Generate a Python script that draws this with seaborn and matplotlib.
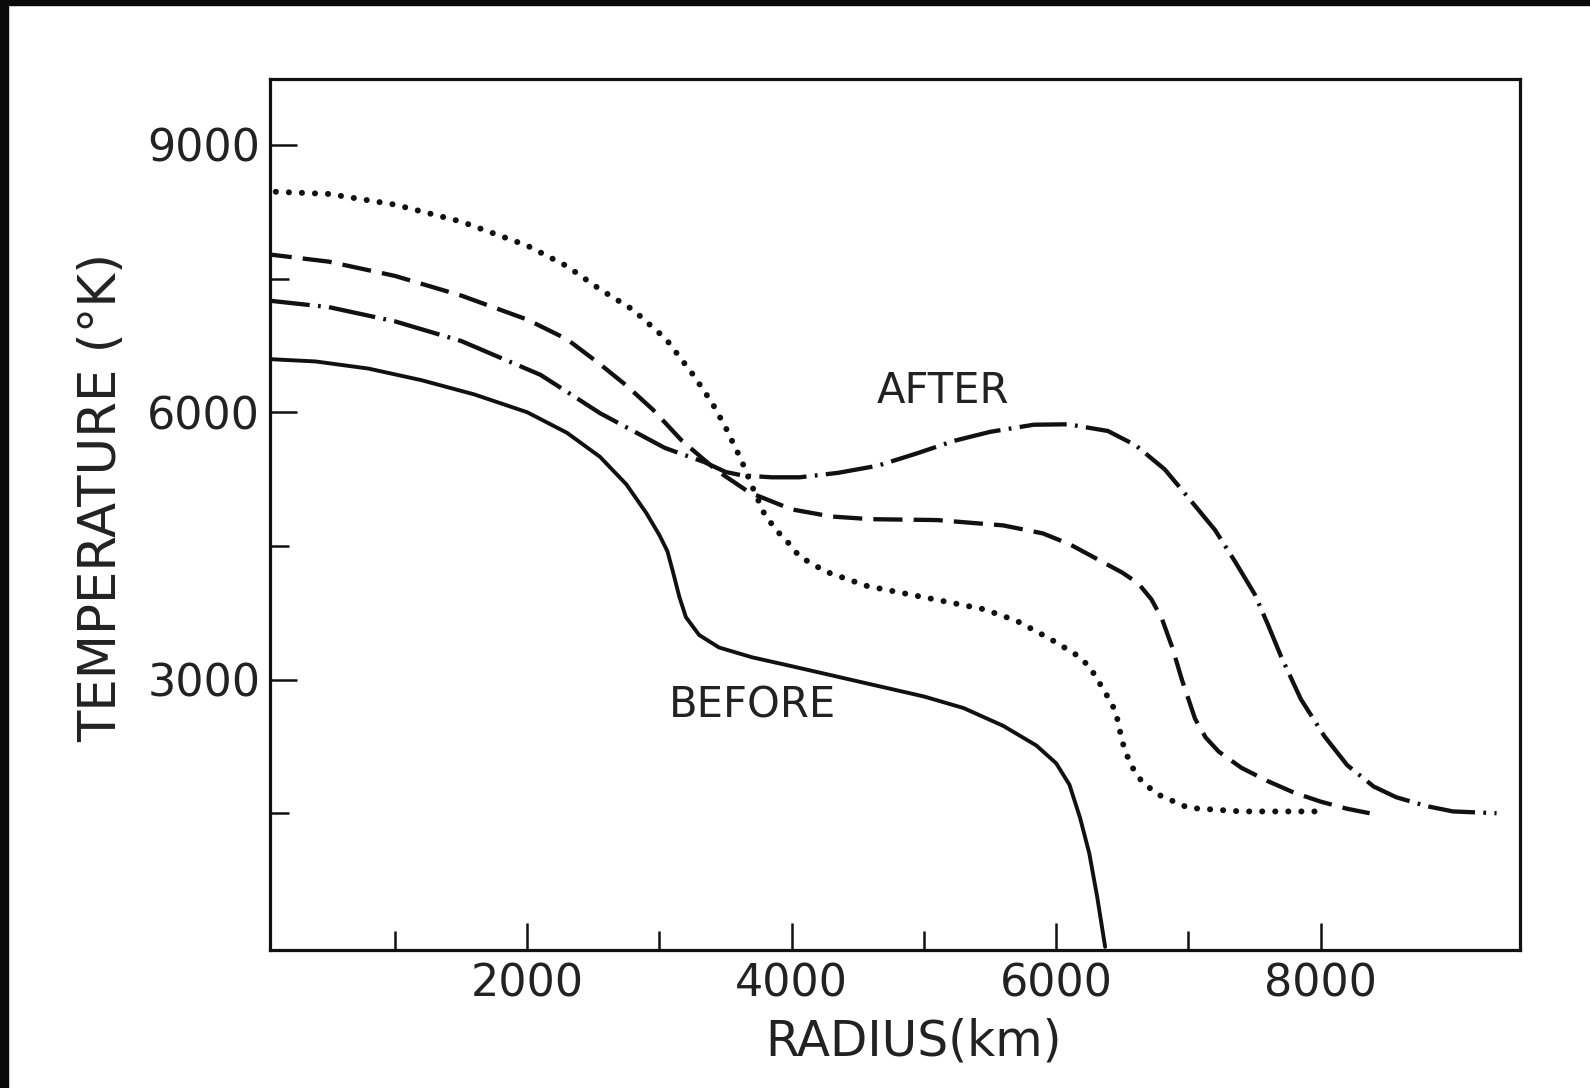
import matplotlib
matplotlib.use("Agg")
import matplotlib.pyplot as plt
from matplotlib.patches import Rectangle
from matplotlib.ticker import FixedLocator
import pandas as pd
import seaborn as sns

# Temperature profiles (K) versus radius (km)
before_r = [0, 400, 800, 1200, 1600, 2000, 2300, 2550, 2750, 2900, 3000, 3060, 3100,
            3150, 3200, 3300, 3450, 3700, 4000, 4500, 5000, 5300, 5600, 5850, 6000,
            6100, 6180, 6250, 6310, 6370]
before_t = [6600, 6570, 6490, 6360, 6200, 6000, 5770, 5500, 5190, 4870, 4620, 4440, 4220,
            3930, 3700, 3500, 3360, 3250, 3150, 2980, 2810, 2680, 2480, 2260, 2060,
            1820, 1450, 1050, 560, 0]

dotted_r = [0, 500, 1000, 1500, 2000, 2300, 2550, 2800, 3050, 3250, 3400, 3500, 3620,
            3700, 3790, 3880, 3960, 4060, 4260, 4570, 5080, 5450, 5700, 5950, 6140,
            6250, 6340, 6400, 6450, 6500, 6560, 6650, 6770, 7000, 7400, 8000]
dotted_t = [8480, 8450, 8330, 8140, 7870, 7640, 7380, 7150, 6820, 6430, 6100, 5830, 5460,
            5170, 4870, 4680, 4560, 4380, 4210, 4050, 3900, 3790, 3660, 3460, 3290,
            3150, 2930, 2780, 2640, 2300, 2050, 1850, 1710, 1560, 1520, 1520]

dashed_r = [0, 500, 1000, 1500, 2000, 2300, 2550, 2750, 2950, 3170, 3430, 3680, 4000,
            4300, 4600, 5100, 5600, 5900, 6100, 6300, 6500, 6620, 6720, 6800, 6880,
            6950, 7050, 7130, 7230, 7400, 7600, 7800, 8000, 8200, 8370]
dashed_t = [7780, 7690, 7530, 7310, 7040, 6820, 6540, 6300, 6030, 5680, 5350, 5100, 4910,
            4830, 4800, 4790, 4730, 4640, 4520, 4360, 4200, 4080, 3900, 3680, 3350,
            3000, 2560, 2350, 2190, 2010, 1860, 1730, 1630, 1550, 1500]

dashdot_r = [0, 500, 1000, 1500, 2100, 2300, 2550, 3040, 3340, 3500, 3630, 3850, 4060,
             4350, 4650, 4950, 5230, 5500, 5830, 6090, 6390, 6600, 6820, 7000, 7200,
             7350, 7500, 7600, 7700, 7850, 8030, 8200, 8400, 8570, 8800, 9000, 9330]
dashdot_t = [7260, 7180, 7020, 6800, 6420, 6230, 5990, 5600, 5440, 5330, 5290, 5270, 5270,
             5320, 5400, 5540, 5680, 5780, 5860, 5865, 5790, 5630, 5360, 5040, 4680,
             4330, 3960, 3620, 3260, 2780, 2360, 2040, 1800, 1680, 1580, 1520, 1500]

x_major = [2000, 4000, 6000, 8000]
x_minor = [1000, 3000, 5000, 7000]
y_major = [3000, 6000, 9000]
y_minor = [1500, 4500, 7500]

sns.set_style("ticks")
plt.rcParams["font.family"] = ["DejaVu Sans"]
plt.rcParams["lines.scale_dashes"] = False

fig = plt.figure(figsize=(15.9, 10.88), dpi=100)
ax = fig.add_axes([270 / 1590, 1 - 950 / 1088, 1250 / 1590, 871 / 1088])

ink = "#111111"

def draw(r, t, **kw):
    df = pd.DataFrame({"r": r, "t": t})
    sns.lineplot(data=df, x="r", y="t", ax=ax, color=ink, estimator=None,
                 sort=False, legend=False, **kw)

draw(before_r, before_t, linewidth=2.8, linestyle="-", solid_capstyle="round",
     solid_joinstyle="round")
draw(dotted_r, dotted_t, linewidth=4.3, linestyle=(0, (0.1, 9.3)),
     dash_capstyle="round")
draw(dashed_r, dashed_t, linewidth=3.1, linestyle=(0, (21, 8)),
     dash_capstyle="butt", dash_joinstyle="round")
draw(dashdot_r, dashdot_t, linewidth=3.1, linestyle=(0, (34, 6, 2, 6)),
     dash_capstyle="butt", dash_joinstyle="round")

ax.set_xlim(55, 9507)
ax.set_ylim(-35, 9740)

ax.xaxis.set_major_locator(FixedLocator(x_major))
ax.xaxis.set_minor_locator(FixedLocator(x_minor))
ax.yaxis.set_major_locator(FixedLocator(y_major))
ax.yaxis.set_minor_locator(FixedLocator(y_minor))
ax.set_xticklabels([str(v) for v in x_major])
ax.set_yticklabels([str(v) for v in y_major])

ax.tick_params(which="both", direction="in", color=ink, width=1.8,
               top=False, right=False, labelcolor="#222222", labelsize=32)
ax.tick_params(which="major", length=19.5)
ax.tick_params(which="minor", length=13.5)
ax.tick_params(axis="y", pad=7)
ax.tick_params(axis="x", pad=9)

for s in ax.spines.values():
    s.set_visible(True)
    s.set_linewidth(2.3)
    s.set_color(ink)

ax.set_xlabel("RADIUS(km)", fontsize=35, color="#222222")
ax.xaxis.set_label_coords(0.515, -0.078)
ax.set_ylabel("TEMPERATURE (°K)", fontsize=37, color="#222222")
ax.yaxis.set_label_coords(-0.114, 0.52)

ax.text(5144, 6240, "AFTER", fontsize=30, color="#222222", ha="center", va="center")
ax.text(3707, 2713, "BEFORE", fontsize=30, color="#222222", ha="center", va="center")

# dark scanner edges along the top and left of the sheet
fig.add_artist(Rectangle((0, 1 - 5 / 1088), 1, 5 / 1088, transform=fig.transFigure,
                         color="#0a0a0a", zorder=10))
fig.add_artist(Rectangle((0, 0), 8 / 1590, 1, transform=fig.transFigure,
                         color="#0a0a0a", zorder=10))

fig.savefig("out.png", dpi=100, facecolor="white")
